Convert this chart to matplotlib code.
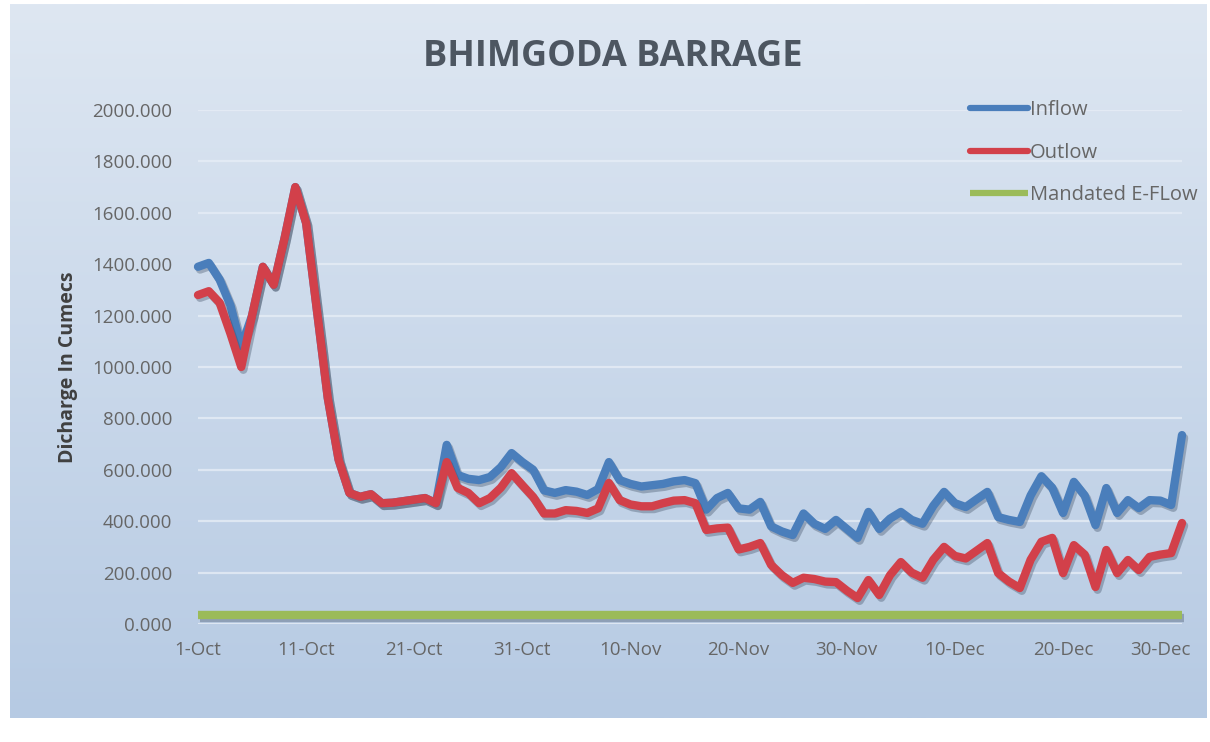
import numpy as np
import matplotlib
matplotlib.use("Agg")
import matplotlib.pyplot as plt
import matplotlib.patheffects as pe

# ---------------- data ----------------
days = list(range(92))  # 1-Oct ... 31-Dec
inflow = [1390, 1405, 1340, 1240, 1080, 1200, 1390, 1320, 1500, 1700,
          1560, 1220, 880, 640, 510, 495, 505, 470, 472, 478,
          484, 490, 470, 697, 580, 565, 560, 572, 610, 665,
          630, 600, 520, 510, 521, 515, 502, 525, 630, 560,
          545, 535, 540, 545, 555, 560, 548, 445, 490, 510,
          450, 445, 475, 380, 360, 346, 430, 390, 370, 405,
          370, 335, 436, 370, 410, 436, 405, 390, 460, 514,
          470, 455, 485, 514, 416, 405, 397, 500, 575, 530,
          432, 553, 500, 385, 529, 432, 482, 451, 482, 480,
          463, 735]
outflow = [1280, 1295, 1250, 1130, 1000, 1200, 1390, 1320, 1500, 1700,
           1560, 1220, 880, 640, 510, 495, 505, 470, 472, 478,
           484, 490, 470, 630, 530, 510, 470, 490, 530, 587,
           540, 494, 430, 430, 443, 440, 432, 450, 549, 482,
           465, 458, 458, 470, 480, 482, 470, 366, 372, 375,
           290, 300, 315, 230, 190, 160, 180, 175, 165, 163,
           130, 101, 171, 113, 190, 241, 200, 180, 250, 300,
           265, 255, 285, 315, 198, 165, 140, 250, 320, 335,
           198, 307, 270, 144, 288, 198, 249, 210, 261, 270,
           276, 393]
eflow = [36] * 92
tick_days = [0, 10, 20, 30, 40, 50, 60, 70, 80, 89]
tick_labels = ["1-Oct", "11-Oct", "21-Oct", "31-Oct", "10-Nov",
               "20-Nov", "30-Nov", "10-Dec", "20-Dec", "30-Dec"]
y_ticks = [0, 200, 400, 600, 800, 1000, 1200, 1400, 1600, 1800, 2000]

# ---------------- figure ----------------
W, H = 1210, 742
fig = plt.figure(figsize=(W / 100, H / 100), dpi=100)
fig.patch.set_facecolor("white")

# gradient background
bg = fig.add_axes([10 / W, 1 - 718 / H, (1207 - 10) / W, (718 - 4) / H])
top = np.array([222, 231, 242]) / 255
bot = np.array([182, 202, 227]) / 255
t = np.linspace(0, 1, 256)[:, None]
grad = top[None, :] * (1 - t) + bot[None, :] * t
bg.imshow(grad[:, None, :], aspect="auto", extent=[0, 1, 0, 1])
bg.set_axis_off()

FONT = ["Open Sans", "DejaVu Sans"]
TXT = "#666666"

x0, x1 = 198, 1182
y0, y1 = 624, 110
ax = fig.add_axes([x0 / W, 1 - y0 / H, (x1 - x0) / W, (y0 - y1) / H])
ax.patch.set_alpha(0)
ax.set_xlim(0, 91)
ax.set_ylim(0, 2000)
for s in ax.spines.values():
    s.set_visible(False)

ax.set_yticks(y_ticks)
ax.set_yticklabels([f"{v:.3f}" for v in y_ticks])
ax.set_xticks(tick_days)
ax.set_xticklabels(tick_labels)
ax.tick_params(axis="both", length=0, labelsize=13.5, colors=TXT)
ax.tick_params(axis="y", pad=18.5)
ax.tick_params(axis="x", pad=12)
for lab in ax.get_xticklabels() + ax.get_yticklabels():
    lab.set_fontfamily(FONT)

ax.grid(axis="y", color="#e6edf6", linewidth=1.6, alpha=0.8)
ax.set_axisbelow(True)

shadow = [pe.SimpleLineShadow(offset=(1.5, -2), shadow_color="#3a4a60", alpha=0.35),
          pe.Normal()]
lw = 6
ax.plot(days, inflow, color="#4a7ebb", lw=lw, solid_joinstyle="round",
        solid_capstyle="round", label="Inflow", path_effects=shadow, clip_on=False)
ax.plot(days, outflow, color="#d2404a", lw=lw, solid_joinstyle="round",
        solid_capstyle="round", label="Outlow", path_effects=shadow, clip_on=False)
ax.plot(days, eflow, color="#9bbb59", lw=lw, solid_capstyle="butt",
        label="Mandated E-FLow", path_effects=shadow, clip_on=False)

ax.set_ylabel("Dicharge In Cumecs", fontsize=14, fontweight="bold",
              color="#404040", family=FONT, labelpad=10)

fig.text(0.506, 1 - 57 / H, "BHIMGODA BARRAGE", ha="center", va="center",
         fontsize=26, fontweight="bold", color="#4d5661", family=FONT)

leg = ax.legend(loc="upper left", bbox_to_anchor=((962 - x0) / (x1 - x0), 1.035),
                frameon=False, fontsize=14.5, handlelength=2.9,
                handletextpad=0.08, labelspacing=1.12, borderaxespad=0)
for line in leg.get_lines():
    line.set_linewidth(4.5)
    line.set_path_effects([])
for txt in leg.get_texts():
    txt.set_color(TXT)
    txt.set_fontfamily(FONT)

fig.savefig("out.png", dpi=100)
